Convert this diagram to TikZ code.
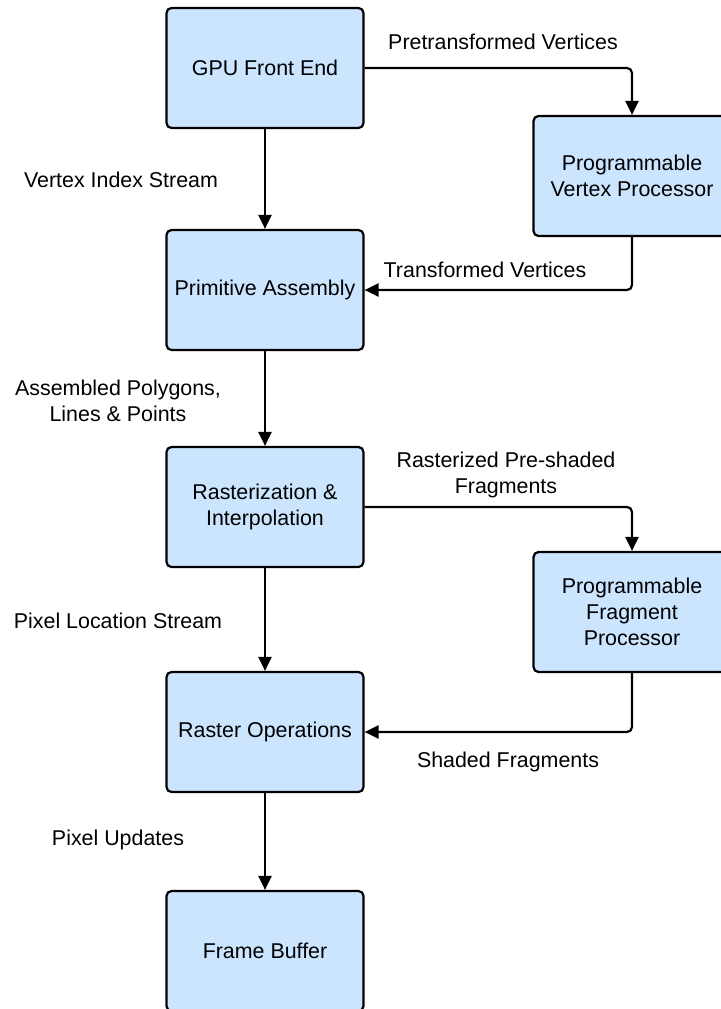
\documentclass[tikz,border=0pt]{standalone}
\usepackage{fontspec}
\setmainfont{Liberation Sans}
\usetikzlibrary{arrows.meta}
\definecolor{boxfill}{HTML}{CCE5FF}
\begin{document}
\begin{tikzpicture}[x=1pt,y=-1pt,
  stage/.style={draw=black, line width=2.2pt, fill=boxfill, rounded corners=5pt,
    minimum width=197pt, minimum height=120pt, align=center,
    font=\fontsize{21.4}{26}\selectfont, inner sep=0pt},
  lbl/.style={align=center, font=\fontsize{21.4}{26}\selectfont, inner sep=0pt},
  flow/.style={line width=2.2pt, rounded corners=5pt,
    -{Triangle[length=14pt,width=13pt]}}]
\useasboundingbox (0,0) rectangle (720,1009);

% main pipeline column
\node[stage] (gpu)  at (265,68)  {GPU Front End};
\node[stage] (prim) at (265,290) {Primitive Assembly};
\node[stage] (rast) at (265,507) {Rasterization \&\\Interpolation};
\node[stage] (rop)  at (265,732) {Raster Operations};
\node[stage] (fb)   at (265,951) {Frame Buffer};

% programmable processors
\node[stage] (vp) at (632,176) {Programmable\\Vertex Processor};
\node[stage] (fp) at (632,612) {Programmable\\Fragment\\Processor};

% connectors
\draw[flow] (gpu) -- (prim);
\draw[flow] (prim) -- (rast);
\draw[flow] (rast) -- (rop);
\draw[flow] (rop) -- (fb);
\draw[flow] (gpu.east) -| (vp.north);
\draw[flow] (vp.south) |- (prim.east);
\draw[flow] (rast.east) -| (fp.north);
\draw[flow] (fp.south) |- (rop.east);

% edge labels
\node[lbl] (l1) at (503,42)  {Pretransformed Vertices};
\node[lbl] (l2) at (121,180) {Vertex Index Stream};
\node[lbl] (l3) at (485,270) {Transformed Vertices};
\node[lbl] (l4) at (118,401) {Assembled Polygons,\\Lines \& Points};
\node[lbl] (l5) at (506,475) {Rasterized Pre-shaded\\Fragments};
\node[lbl] (l6) at (118,621) {Pixel Location Stream};
\node[lbl] (l7) at (508,762) {Shaded Fragments};
\node[lbl] (l8) at (118,840) {Pixel Updates};
\end{tikzpicture}
\end{document}
